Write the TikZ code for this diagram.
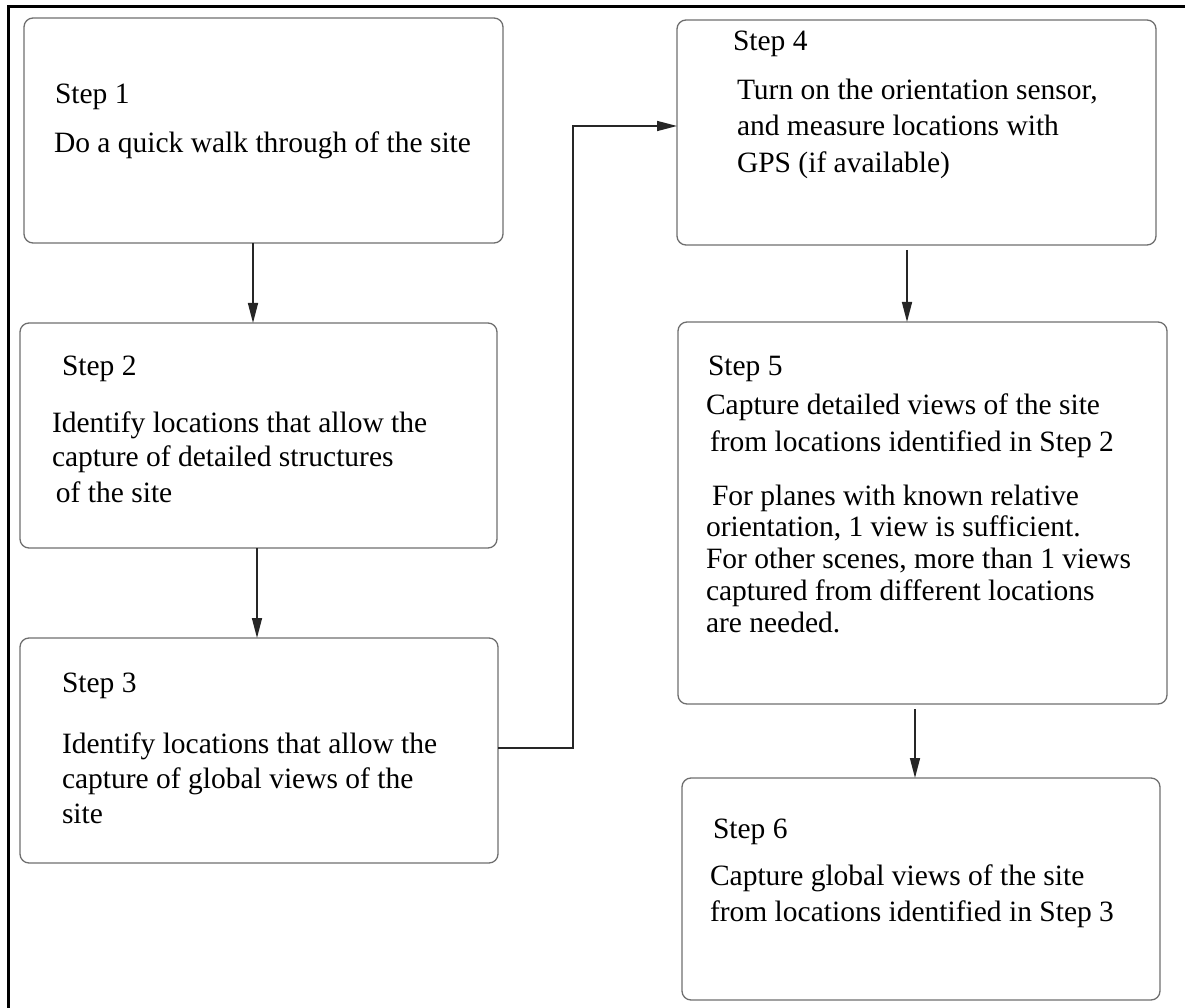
\documentclass[tikz,border=0pt]{standalone}
\usepackage{fontspec}
\setmainfont{Liberation Serif}
\usetikzlibrary{arrows.meta}
\definecolor{edgegray}{HTML}{6E6E6E}
\tikzset{
  stepbox/.style={draw=edgegray, line width=1.3pt, rounded corners=9pt,
    inner sep=0pt, outer sep=0pt, anchor=north west},
  txt/.style={anchor=base west, inner sep=0pt, outer sep=0pt,
    font=\rmfamily\fontsize{29.5}{35}\selectfont},
  arr/.style={draw=black!85, line width=1.5pt,
    -{Triangle[length=20pt,width=10pt]}},
  frame/.style={line width=3pt, line cap=rect}
}
\begin{document}
\begin{tikzpicture}[x=1pt,y=-1pt]
\useasboundingbox (0,0) rectangle (1187,1008);
\draw[frame] (8,1008) -- (8,7) -- (1183,7);

% step boxes
\node[stepbox, minimum width=479pt, minimum height=225pt] (s1) at (24,18) {};
\node[stepbox, minimum width=477pt, minimum height=225pt] (s2) at (20,323) {};
\node[stepbox, minimum width=478pt, minimum height=225pt] (s3) at (20,638) {};
\node[stepbox, minimum width=479pt, minimum height=225pt] (s4) at (677,20) {};
\node[stepbox, minimum width=489pt, minimum height=382pt] (s5) at (678,322) {};
\node[stepbox, minimum width=478pt, minimum height=222pt] (s6) at (682,778) {};

% box texts
\node[txt] (t1a) at (55,104) {Step 1};
\node[txt] (t1b) at (54,153) {Do a quick walk through of the site};

\node[txt] (t2a) at (62,376) {Step 2};
\node[txt] (t2b) at (52,433) {Identify locations that allow the};
\node[txt] (t2c) at (52,466) {capture of detailed structures};
\node[txt] (t2d) at (56,502) {of the site};

\node[txt] (t3a) at (62,692) {Step 3};
\node[txt] (t3b) at (62,753) {Identify locations that allow the};
\node[txt] (t3c) at (62,788) {capture of global views of the};
\node[txt] (t3d) at (62,823) {site};

\node[txt] (t4a) at (733,51) {Step 4};
\node[txt] (t4b) at (737,100) {Turn on the orientation sensor,};
\node[txt] (t4c) at (737,136) {and measure locations with};
\node[txt] (t4d) at (737,173) {GPS (if available)};

\node[txt] (t5a) at (708,376) {Step 5};
\node[txt] (t5b) at (706,414) {Capture detailed views of the site};
\node[txt] (t5c) at (710,451) {from locations identified in Step 2};
\node[txt] (t5d) at (712,505) {For planes with known relative};
\node[txt] (t5e) at (706,536) {orientation, 1 view is sufficient.};
\node[txt] (t5f) at (706,568) {For other scenes, more than 1 views};
\node[txt] (t5g) at (706,600) {captured from different locations};
\node[txt] (t5h) at (706,632) {are needed.};

\node[txt] (t6a) at (713,838) {Step 6};
\node[txt] (t6b) at (710,885) {Capture global views of the site};
\node[txt] (t6c) at (710,921) {from locations identified in Step 3};

% connectors
\coordinate (x12) at (253,0);
\coordinate (x23) at (257,0);
\coordinate (x45) at (907,250);
\coordinate (x56) at (915,709);
\coordinate (k1) at (573,748);
\coordinate (k2) at (573,126);

\draw[arr] (s1.south -| x12) -- (s2.north -| x12);
\draw[arr] (s2.south -| x23) -- (s3.north -| x23);
\draw[arr] (x45) -- (s5.north -| x45);
\draw[arr] (x56) -- (s6.north -| x56);
\draw[arr] (s3.east |- k1) -- (k1) -- (k2) -- (s4.west |- k2);
\end{tikzpicture}
\end{document}
